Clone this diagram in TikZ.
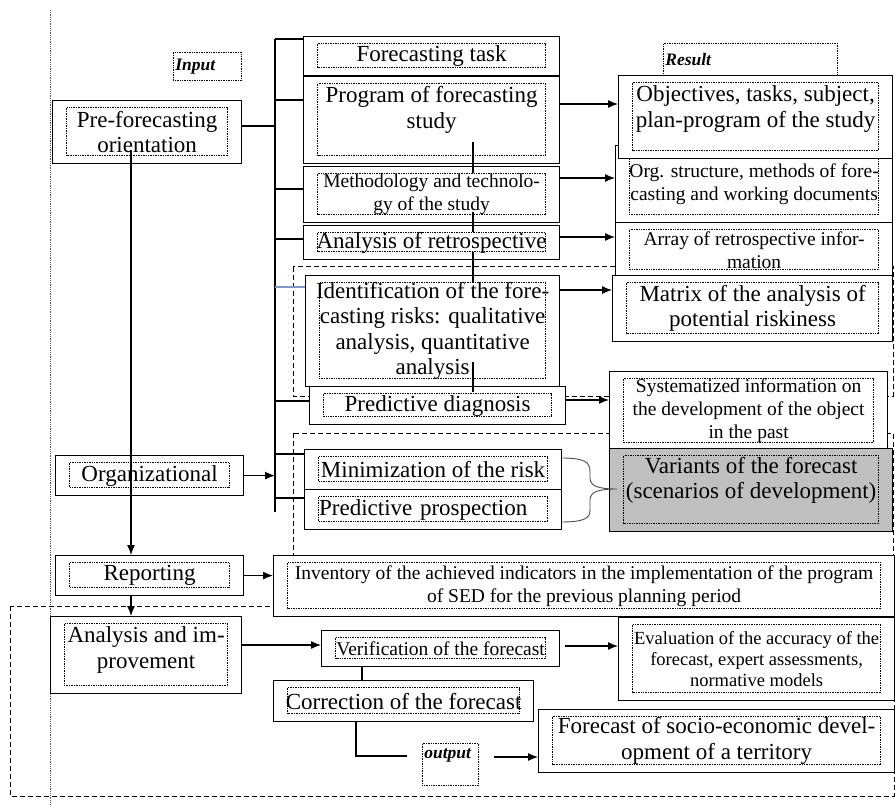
\documentclass[tikz,border=0pt]{standalone}
\usepackage{fontspec}
\setmainfont{Liberation Serif}
\usetikzlibrary{arrows.meta}
\definecolor{shade}{RGB}{192,192,192}
\definecolor{tickblue}{RGB}{120,155,205}
\newcommand\bigtxt{\fontsize{23}{25.5}\selectfont}
\newcommand\smtxt{\fontsize{19.5}{23}\selectfont}
\newcommand\tagtxt{\fontsize{17.5}{20}\selectfont\bfseries\itshape}

\begin{document}
\begin{tikzpicture}[x=1pt,y=-1pt,line width=1.2pt,
  box/.style={draw,fill=white,inner sep=0pt,anchor=north west,align=center,font=\bigtxt,
    path picture={\draw[densely dotted,line width=0.7pt] ([shift={(14pt,-7pt)}]path picture bounding box.north west) rectangle ([shift={(-14pt,8pt)}]path picture bounding box.south east);}},
  smbox/.style={box,font=\smtxt},
  lift/.style={text depth=#1},
  tag/.style={draw,densely dotted,line width=0.7pt,anchor=north west,inner sep=2pt,align=left,font=\tagtxt},
  zone/.style={line width=1pt,dash pattern=on 5pt off 3pt},
  arr/.style={-{Latex[length=10pt,width=8pt]}}]
\useasboundingbox (0,0) rectangle (895,805);
\draw[densely dotted,line width=0.8pt,gray!70!black] (50,10) -- (50,805);
\draw[zone] (293,267) rectangle (893,396);
\draw[zone] (293,433) rectangle (893,556);
\draw[zone] (10,606) rectangle (894,796);
\node[tag,text width=64pt,minimum height=28pt] (input) at (173,52) {Input};
\node[tag,text width=170pt,minimum height=32pt] (result) at (663,43) {Result};
\node[tag,text width=52pt,minimum height=42pt,text depth=22pt] (output) at (422,743) {output};
% left column
\node[box,minimum width=189pt,minimum height=63pt] (pre) at (52,100) {Pre-forecasting\\orientation};
\node[box,minimum width=188pt,minimum height=40pt] (org) at (55,455) {Organizational};
\node[box,minimum width=188pt,minimum height=40pt] (rep) at (55,555) {Reporting};
\node[box,minimum width=191pt,minimum height=77pt,lift=15pt] (anl) at (50,616) {Analysis and im-\\provement};
% middle column
\node[box,minimum width=256pt,minimum height=39pt] (task) at (303,36) {Forecasting task};
\node[box,minimum width=256pt,minimum height=87pt,lift=25pt] (prog) at (303,76) {Program of forecasting\\study};
\node[smbox,minimum width=256pt,minimum height=56pt] (meth) at (303,166) {Methodology and technolo-\\gy of the study};
\node[box,minimum width=256pt,minimum height=34pt] (ana) at (303,225) {Analysis of retrospective};
\node[box,minimum width=254pt,minimum height=111pt] (ident) at (305,275) {Identification of the fore-\\casting risks: qualitative\\analysis, quantitative\\analysis};
\node[box,minimum width=256pt,minimum height=38pt] (diag) at (309,386) {Predictive diagnosis};
\node[box,minimum width=257pt,minimum height=40pt] (minim) at (304,449) {Minimization of the risk};
\node[box,minimum width=257pt,minimum height=40pt,text width=228pt,align=left] (prosp) at (304,489) {Predictive prospection};
\node[smbox,minimum width=621pt,minimum height=61pt] (inv) at (273,555) {Inventory of the achieved indicators in the implementation of the program\\of SED for the previous planning period};
\node[smbox,minimum width=238pt,minimum height=36pt] (verif) at (321,630) {Verification of the forecast};
\node[box,minimum width=260pt,minimum height=41pt] (corr) at (273,680) {Correction of the forecast};
% right column
\node[smbox,minimum width=277pt,minimum height=77pt] (orgs) at (615,145) {Org. structure, methods of fore-\\casting and working documents};
\node[box,minimum width=274pt,minimum height=83pt,lift=21pt] (obj) at (618,75) {Objectives, tasks, subject,\\plan-program of the study};
\node[smbox,minimum width=277pt,minimum height=55pt] (arr) at (615,222) {Array of retrospective infor-\\mation};
\node[box,minimum width=280pt,minimum height=66pt] (mat) at (612,275) {Matrix of the analysis of\\potential riskiness};
\node[smbox,minimum width=278pt,minimum height=79pt] (sys) at (609,371) {Systematized information on\\the development of the object\\in the past};
\node[box,fill=shade,minimum width=283pt,minimum height=83pt,lift=24pt] (var) at (609,448) {Variants of the forecast\\(scenarios of development)};
\node[smbox,font=\fontsize{18.5}{21}\selectfont,minimum width=276pt,minimum height=83pt] (eval) at (618,617) {Evaluation of the accuracy of the\\forecast, expert assessments,\\normative models};
\node[box,minimum width=356pt,minimum height=63pt] (fcst) at (538,709) {Forecast of socio-economic devel-\\opment of a territory};
% connectors
\draw (275,39) -- (275,512);
\foreach \y/\b/\c in {39/task/black,100/prog/black,189/meth/black,239/ana/black,287/ident/tickblue,401/diag/black,454/minim/black,498/prosp/black}
  \draw[\c] (275,\y) -- (\b.west |- 275,\y);
\draw (pre.east |- 0,126) -- (275,126);
\draw[arr] (org.east) -- (org.east -| 275,0);
\foreach \a/\b in {142/173,212/232,252/283,362/392}
  \draw (473,\a) -- (473,\b);
\draw[arr] (prog.east |- 0,104) -- (obj.west |- 0,104);
\draw[arr] (meth.east |- 0,178) -- (orgs.west |- 0,178);
\draw[arr] (ana.east |- 0,237) -- (arr.west |- 0,237);
\draw[arr] (ident.east |- 0,290) -- (mat.west |- 0,290);
\draw[arr] (diag.east |- 0,400) -- (sys.west |- 0,400);
\draw[line width=0.9pt,gray!60!black] (561,458) .. controls (585,458) and (590,462) .. (590,472) -- (590,478) .. controls (590,486) and (598,489) .. (617,489) .. controls (598,489) and (590,492) .. (590,500) -- (590,510) .. controls (590,518) and (585,522) .. (561,522);
\draw[arr] (131,150) -- (rep.north -| 131,0);
\draw[arr] (131,595) -- (anl.north -| 131,0);
\draw[arr] (rep.east) -- (rep.east -| inv.west);
\draw[arr] (anl.east |- 0,645) -- (verif.west |- 0,645);
\draw[arr] (565,646) -- (eval.west |- 0,646);
\draw (verif.south -| 362,0) -- (corr.north -| 362,0);
\draw (corr.south -| 356,0) |- (407,756);
\draw[arr] (494,757) -- (fcst.west |- 0,757);
\end{tikzpicture}
\end{document}
